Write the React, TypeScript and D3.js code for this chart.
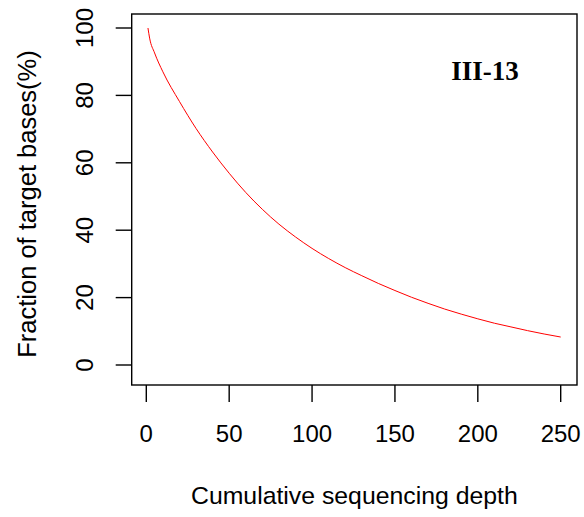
import React from "react";
import * as d3 from "d3";

const depth = [1, 2, 5, 10, 20, 30, 40, 50, 60, 70, 80, 90, 100, 110, 120, 130, 140, 150, 160, 170, 180, 190, 200, 210, 220, 230, 240, 250];
const fraction = [100, 97, 92.6, 87, 78.2, 70.2, 63.2, 56.9, 51.2, 46.2, 41.8, 38.0, 34.6, 31.6, 28.9, 26.5, 24.2, 22.1, 20.1, 18.3, 16.6, 15.1, 13.7, 12.4, 11.3, 10.2, 9.2, 8.3];
const xTicks = [0, 50, 100, 150, 200, 250];
const yTicks = [0, 20, 40, 60, 80, 100];
const xTitle = "Cumulative sequencing depth";
const yTitle = "Fraction of target bases(%)";
const panelLabel = "III-13";

const W = 584;
const H = 517;
const box = { left: 131.7, top: 14, right: 577, bottom: 385 };
const FONT = "'Liberation Sans', Arial, sans-serif";

export default function App() {
  const x = d3.scaleLinear().domain([0, 250]).range([146.3, 560.7]);
  const y = d3.scaleLinear().domain([0, 100]).range([365, 28]);
  const pts = depth.map((d, i) => [d, fraction[i]] as [number, number]);
  const line = d3
    .line<[number, number]>()
    .x((d) => x(d[0]))
    .y((d) => y(d[1]))
    .curve(d3.curveMonotoneX);

  return (
    <svg
      width={W}
      height={H}
      style={{ position: "absolute", left: 0, top: 0, background: "#fff" }}
    >
      <rect x={0} y={0} width={W} height={H} fill="#fff" />
      <path d={line(pts) || ""} fill="none" stroke="#ff0000" strokeWidth={1} />
      <rect
        x={box.left}
        y={box.top}
        width={box.right - box.left}
        height={box.bottom - box.top}
        fill="none"
        stroke="#000"
        strokeWidth={1.4}
      />
      {xTicks.map((t) => (
        <g key={"x" + t}>
          <line x1={x(t)} x2={x(t)} y1={box.bottom} y2={box.bottom + 17} stroke="#000" strokeWidth={1.4} />
          <text x={x(t)} y={442} textAnchor="middle" fontFamily={FONT} fontSize={24} fill="#000">
            {t}
          </text>
        </g>
      ))}
      {yTicks.map((t) => (
        <g key={"y" + t}>
          <line x1={box.left} x2={box.left - 16} y1={y(t)} y2={y(t)} stroke="#000" strokeWidth={1.4} />
          <text
            transform={`translate(93.3,${y(t)}) rotate(-90)`}
            textAnchor="middle"
            fontFamily={FONT}
            fontSize={24}
            fill="#000"
          >
            {t}
          </text>
        </g>
      ))}
      <text x={(box.left + box.right) / 2} y={504} textAnchor="middle" fontFamily={FONT} fontSize={24.8} fill="#000">
        {xTitle}
      </text>
      <text
        transform={`translate(36,204) rotate(-90)`}
        textAnchor="middle"
        fontFamily={FONT}
        fontSize={25.5}
        fill="#000"
      >
        {yTitle}
      </text>
      <text
        x={485}
        y={80}
        textAnchor="middle"
        fontFamily="'Liberation Serif', 'Times New Roman', serif"
        fontWeight="bold"
        fontSize={27}
        fill="#000"
      >
        {panelLabel}
      </text>
    </svg>
  );
}
